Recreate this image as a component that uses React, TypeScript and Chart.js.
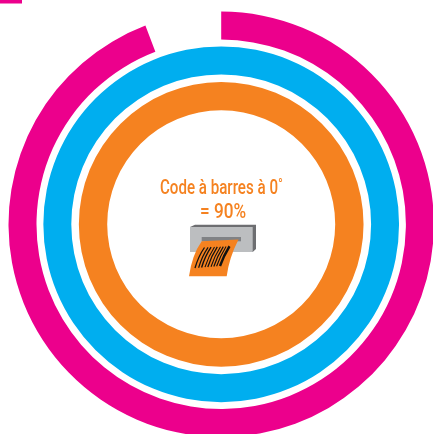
import React, { useEffect, useRef } from "react";
import { Chart, registerables } from "chart.js";

Chart.register(...registerables);

const ringLabels = ["Valeur", "Reste"];
const pinkValues = [94.2, 5.8];
const blueValues = [100, 0];
const orangeValues = [100, 0];
const spacerValues = [100, 0];
const centerLines = ["Code à barres à 0˚", "= 90%"];
const PINK = "#EC008C";
const BLUE = "#00AEEF";
const ORANGE = "#F58220";

const centerPlugin = {
  id: "centerArt",
  afterDraw(chart: any) {
    const c = chart.ctx;
    c.save();
    // small mark in the corner
    c.fillStyle = PINK;
    c.fillRect(0, 0, 22, 3.5);

    // text
    c.fillStyle = ORANGE;
    c.textAlign = "center";
    c.textBaseline = "alphabetic";
    c.font = "500 21px Roboto";
    const lines: [string, number, number, number][] = [
      [centerLines[0], 221.5, 194, 123],
      [centerLines[1], 223, 218, 46],
    ];
    for (const [t, x, y, w] of lines) {
      c.save();
      c.translate(x, y);
      c.scale(w / c.measureText(t).width, 1);
      c.fillText(t, 0, 0);
      c.restore();
    }

    // icon: printer body
    c.fillStyle = "#6D6E71";
    c.beginPath();
    c.moveTo(195, 224.7);
    c.lineTo(256, 224.7);
    c.lineTo(256, 249);
    c.lineTo(252.7, 252);
    c.lineTo(190, 252);
    c.lineTo(190, 227);
    c.closePath();
    c.fill();
    c.fillStyle = "#BCBEC0";
    c.fillRect(190, 227, 62.7, 25);
    c.fillStyle = "#808285";
    c.fillRect(201.7, 237, 39.3, 4.3);

    // icon: paper
    c.fillStyle = ORANGE;
    c.beginPath();
    c.moveTo(201.7, 241.3);
    c.lineTo(238.5, 239.5);
    c.quadraticCurveTo(229, 258, 226.7, 276.3);
    c.lineTo(189, 276.3);
    c.quadraticCurveTo(192, 255, 201.7, 241.3);
    c.closePath();
    c.fill();

    // icon: bars
    c.strokeStyle = "#111111";
    const bars = [0, 3.6, 6.6, 10, 12.8, 16, 18.8, 21.6, 25];
    const widths = [1.3, 1.2, 1.4, 1.1, 1.3, 1.1, 1.2, 1.1, 2.4];
    bars.forEach((b, i) => {
      c.lineWidth = widths[i];
      c.beginPath();
      c.moveTo(204.5 + b, 247.5 - b * 0.05);
      c.quadraticCurveTo(198.5 + b, 256, 195 + b, 268 - b * 0.08);
      c.stroke();
    });
    c.restore();
  },
};

export default function App() {
  const ref = useRef<HTMLCanvasElement>(null);
  useEffect(() => {
    const chart = new Chart(ref.current!, {
      type: "doughnut",
      data: {
        labels: ringLabels,
        datasets: [
          { data: pinkValues, backgroundColor: [PINK, "rgba(0,0,0,0)"], weight: 28, borderWidth: 0 },
          { data: spacerValues, backgroundColor: ["rgba(0,0,0,0)", "rgba(0,0,0,0)"], weight: 6.85, borderWidth: 0 },
          { data: blueValues, backgroundColor: [BLUE, BLUE], weight: 27.95, borderWidth: 0 },
          { data: spacerValues, backgroundColor: ["rgba(0,0,0,0)", "rgba(0,0,0,0)"], weight: 7.55, borderWidth: 0 },
          { data: orangeValues, backgroundColor: [ORANGE, ORANGE], weight: 28.35, borderWidth: 0 },
        ],
      } as any,
      options: {
        responsive: false,
        animation: false,
        cutout: 114,
        layout: { padding: { left: 8.5, right: 9.1, top: 11.6, bottom: 12 } },
        plugins: { legend: { display: false }, tooltip: { enabled: false } },
      } as any,
      plugins: [centerPlugin],
    });
    return () => chart.destroy();
  }, []);
  return (
    <div style={{ position: "absolute", left: 0, top: 0, width: 433, height: 434, overflow: "hidden", background: "#fff" }}>
      <canvas ref={ref} width={443} height={449} style={{ display: "block", width: 443, height: 449 }} />
    </div>
  );
}
